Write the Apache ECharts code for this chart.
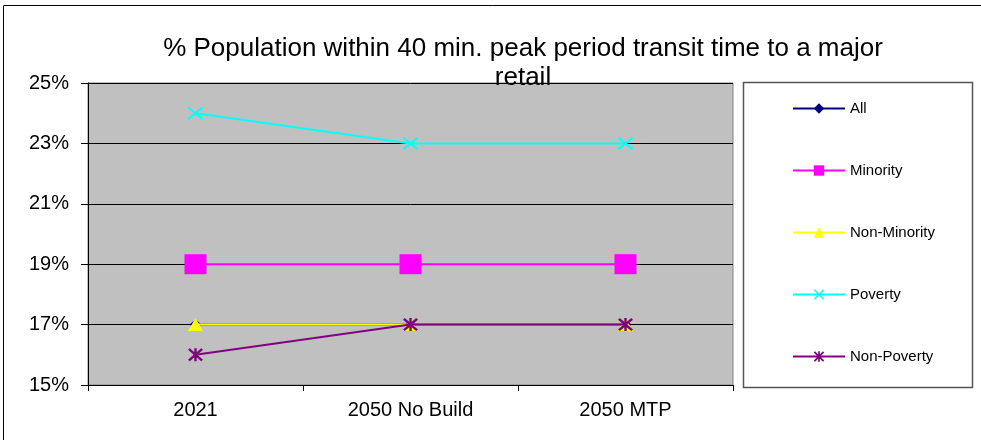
<!DOCTYPE html>
<html><head><meta charset="utf-8">
<script src="https://cdn.jsdelivr.net/npm/echarts@6/dist/echarts.min.js"></script>
<style>html,body{margin:0;padding:0;background:#fff}#c{width:981px;height:440px}</style>
</head><body><div id="c"></div>
<script>
const categories = ['2021', '2050 No Build', '2050 MTP'];
const allVals = [17, 17, 17];
const minority = [19, 19, 19];
const nonMinority = [17, 17, 17];
const poverty = [24, 23, 23];
const nonPoverty = [16, 17, 17];
const yTicks = {min: 15, max: 25, interval: 2};

const crossPath = 'path://M0,1L1,0L5,4L9,0L10,1L6,5L10,9L9,10L5,6L1,10L0,9L4,5Z';
const starPath = 'path://M0,1.2L1.2,0L5,3.8L8.8,0L10,1.2L6.2,5L10,8.8L8.8,10L5,6.2L1.2,10L0,8.8L3.8,5Z M4.2,0L5.8,0L5.8,10L4.2,10Z';
const FONT = 'Liberation Sans, Arial';

const chart = echarts.init(document.getElementById('c'));
function ser(name, data, color, symbol, size, z) {
  return {
    name, type: 'line', data, symbol, symbolSize: size, z,
    lineStyle: {color, width: 2}, itemStyle: {color},
    emphasis: {disabled: true}, animation: false
  };
}
chart.setOption({
  animation: false,
  title: {
    text: '% Population within 40 min. peak period transit time to a major\nretail',
    left: 518, top: 29, textAlign: 'center',
    textStyle: {fontFamily: FONT, fontSize: 26, fontWeight: 'normal', color: '#000', lineHeight: 29}
  },
  graphic: [
    {type: 'rect', shape: {x: 3.5, y: 5.5, width: 1000, height: 460}, style: {fill: 'none', stroke: '#000', lineWidth: 1}, z: -10},
    {type: 'rect', shape: {x: 743.5, y: 82.5, width: 229, height: 305}, style: {fill: '#fff', stroke: '#555', lineWidth: 1.5}, z: -5}
  ],
  grid: {left: 88, right: 248, top: 83, bottom: 55, show: true, backgroundColor: '#C0C0C0', borderColor: '#808080', borderWidth: 1},
  legend: {
    orient: 'vertical', left: 787, top: 96, itemGap: 47, itemWidth: 52, itemHeight: 13,
    textStyle: {fontFamily: FONT, fontSize: 15, color: '#000'},
    data: ['All', 'Minority', 'Non-Minority', 'Poverty', 'Non-Poverty']
  },
  xAxis: {
    type: 'category', data: categories, boundaryGap: true,
    axisLine: {lineStyle: {color: '#000'}},
    axisTick: {show: true, length: 6, lineStyle: {color: '#000'}},
    axisLabel: {fontFamily: FONT, fontSize: 20, color: '#000', margin: 15}
  },
  yAxis: {
    type: 'value', min: yTicks.min, max: yTicks.max, interval: yTicks.interval,
    axisLine: {show: true, lineStyle: {color: '#000'}},
    axisTick: {show: true, length: 7, lineStyle: {color: '#000'}},
    splitLine: {lineStyle: {color: '#000', width: 1}},
    axisLabel: {fontFamily: FONT, fontSize: 20, color: '#000', margin: 19, formatter: v => v + '%'}
  },
  series: [
    ser('All', allVals, '#000080', 'diamond', [12, 10], 2),
    ser('Minority', minority, '#FF00FF', 'rect', [22, 20], 3),
    ser('Non-Minority', nonMinority, '#FFFF00', 'triangle', [15, 13], 4),
    ser('Poverty', poverty, '#00FFFF', crossPath, [16, 13], 5),
    ser('Non-Poverty', nonPoverty, '#800080', starPath, [15, 13], 6)
  ]
});
</script></body></html>
